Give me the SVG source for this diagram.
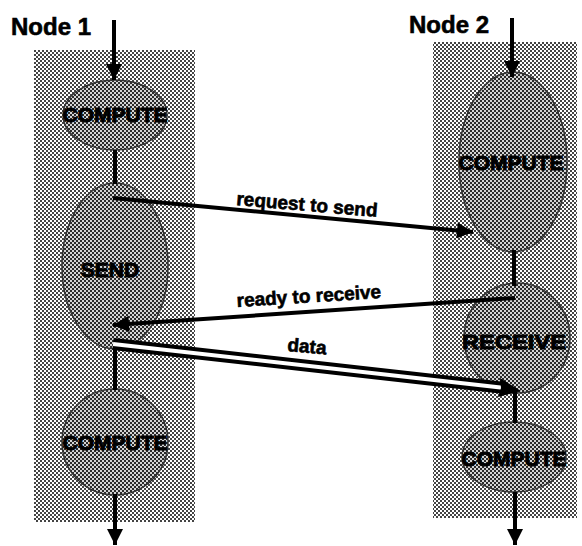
<svg xmlns="http://www.w3.org/2000/svg" width="582" height="546" viewBox="0 0 582 546">
<defs>
<pattern id="htPanel" width="4" height="4" patternUnits="userSpaceOnUse">
<rect width="4" height="4" fill="#ffffff"/>
<rect x="0" y="0" width="2" height="2" fill="#444444"/>
<rect x="2" y="2" width="2" height="2" fill="#444444"/>
</pattern>
<pattern id="htNode" width="4" height="4" patternUnits="userSpaceOnUse">
<rect width="4" height="4" fill="#d4d4d4"/>
<rect x="0" y="0" width="2" height="2" fill="#2a2a2a"/>
<rect x="2" y="2" width="2" height="2" fill="#2a2a2a"/>
</pattern>
<marker id="ah" viewBox="0 0 10 10" refX="10" refY="5" markerWidth="5.5" markerHeight="4" markerUnits="strokeWidth" orient="auto">
<path d="M0,0 L10,5 L0,10 z" fill="#000"/>
</marker>
</defs>
<style>
.panel{fill:url(#htPanel);stroke:none}
.node{fill:url(#htNode);stroke:#333;stroke-width:1.5}
.lbl{font-family:"Liberation Sans",Arial,sans-serif;font-weight:bold;fill:#000;stroke:#000;stroke-width:0.6}
.nt{font-size:21px;text-anchor:middle;stroke-width:0.9}
.title{font-size:24px}
.al{font-size:19px}
.ln{stroke:#000;stroke-width:4;fill:none}
</style>
<g id="lanes">
<rect id="lane1" class="panel" x="34" y="50" width="161" height="472"/>
<rect id="lane2" class="panel" x="433" y="42" width="144" height="476"/>
<text class="lbl title" x="11" y="35">Node 1</text>
<text class="lbl title" x="409" y="33">Node 2</text>
</g>
<g id="n1-compute1">
<ellipse class="node" cx="115" cy="115" rx="52" ry="35"/>
<text class="lbl nt" x="115" y="122">COMPUTE</text>
</g>
<g id="n1-send">
<ellipse class="node" cx="115" cy="266" rx="53" ry="83"/>
<text class="lbl nt" x="110" y="277">SEND</text>
</g>
<g id="n1-compute2">
<ellipse class="node" cx="115" cy="442" rx="53" ry="53"/>
<text class="lbl nt" x="115" y="450">COMPUTE</text>
</g>
<g id="n2-compute1">
<ellipse class="node" cx="513" cy="162" rx="54" ry="90"/>
<text class="lbl nt" x="511" y="170">COMPUTE</text>
</g>
<g id="n2-receive">
<ellipse class="node" cx="517" cy="338" rx="53" ry="55"/>
<text class="lbl nt" x="514" y="349" textLength="104" lengthAdjust="spacingAndGlyphs">RECEIVE</text>
</g>
<g id="n2-compute2">
<ellipse class="node" cx="514" cy="457" rx="52" ry="35"/>
<text class="lbl nt" x="514" y="466">COMPUTE</text>
</g>
<g id="connectors">
<line class="ln" x1="114" y1="20" x2="114" y2="80" marker-end="url(#ah)"/>
<line class="ln" x1="115" y1="150" x2="115" y2="184"/>
<line class="ln" x1="115" y1="348" x2="115" y2="390"/>
<line class="ln" x1="115" y1="494" x2="115" y2="545" marker-end="url(#ah)"/>
<line class="ln" x1="512" y1="18" x2="512" y2="77" marker-end="url(#ah)"/>
<line class="ln" x1="514" y1="250" x2="514" y2="286"/>
<line class="ln" x1="515" y1="392" x2="515" y2="423"/>
<line class="ln" x1="515" y1="492" x2="515" y2="545" marker-end="url(#ah)"/>
<line class="ln" x1="113" y1="198" x2="473" y2="232" marker-end="url(#ah)"/>
<line class="ln" x1="515" y1="298" x2="113" y2="325" marker-end="url(#ah)"/>
<g id="data-arrow">
<line x1="113" y1="344" x2="505" y2="388" stroke="#000" stroke-width="12"/>
<line x1="113" y1="344" x2="505" y2="388" stroke="#fff" stroke-width="4"/>
<path d="M521,391 L498,397 L501,388 L500,378 z" fill="#000"/>
</g>
<text class="lbl al" x="236" y="205" transform="rotate(4.8 236 205)">request to send</text>
<text class="lbl al" x="237" y="307" transform="rotate(-3.6 237 307)">ready to receive</text>
<text class="lbl al" x="287" y="351" transform="rotate(5 287 351)">data</text>
</g>
</svg>
